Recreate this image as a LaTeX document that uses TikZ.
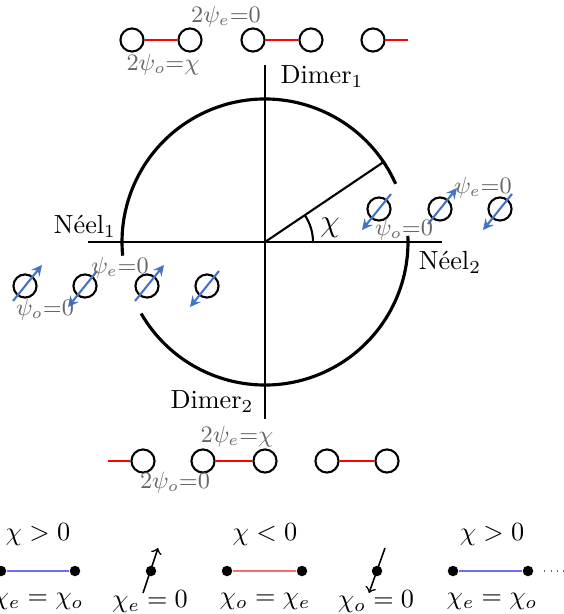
\documentclass[tikz,border=0pt]{standalone}
\usepackage{amsmath,amssymb}
\usepackage{tikz}
\usetikzlibrary{arrows, positioning, calc}

\definecolor{spinblue}{RGB}{68,114,196}
\definecolor{bondblue}{RGB}{110,110,245}
\definecolor{bondred}{RGB}{245,110,110}

\begin{document}
\begin{tikzpicture}[
    x=0.0134cm, y=0.0134cm,
    site/.style={circle, draw, thick, minimum size=8.8pt, inner sep=0pt},
    bond/.style={red, thick},
    spin/.style={-stealth, thick, spinblue},
    lab/.style={text=black!60, font=\small, inner sep=0pt},
    dot/.style={circle, fill, minimum size=4pt, inner sep=0pt},
    tilt/.style={->, semithick}
]
    \useasboundingbox (0,0) rectangle (564,-614);

    % phase circle
    \coordinate (O) at (265,-242);
    \draw[thick] (88,-242) -- (442,-242);
    \draw[thick] (265,-65) -- (265,-419);
    \draw[very thick] (O) ++(24:143) arc (24:185.5:143);
    \draw[very thick] (O) ++(210:143) arc (210:362.5:143);
    \coordinate (R) at ($(O)+(34:143)$);
    \draw[thick] (O) -- (R);
    \draw[thick] (O) ++(0:48) arc (0:34:48);
    \node[font=\large] (chi) at (330,-228) {$\chi$};

    \node (dimer1) at (322,-77) {Dimer$_1$};
    \node (dimer2) at (212,-402) {Dimer$_2$};
    \node (neel1) at (85,-226) {N\'eel$_1$};
    \node (neel2) at (450,-262) {N\'eel$_2$};

    % Dimer_1 chain
    \node[site] (t1) at (132,-40) {};
    \node[site] (t2) at (190,-40) {};
    \node[site] (t3) at (253,-40) {};
    \node[site] (t4) at (311,-40) {};
    \node[site] (t5) at (373,-40) {};
    \coordinate (tend) at (408,-40);
    \draw[bond] (t1) -- (t2);
    \draw[bond] (t3) -- (t4);
    \draw[bond] (t5) -- (tend);
    \node[lab] at (226,-17) {$2\psi_e{=}0$};
    \node[lab] at (163,-65) {$2\psi_o{=}\chi$};

    % Dimer_2 chain
    \coordinate (bstart) at (108,-461);
    \node[site] (b1) at (143,-461) {};
    \node[site] (b2) at (203,-461) {};
    \node[site] (b3) at (265,-461) {};
    \node[site] (b4) at (327,-461) {};
    \node[site] (b5) at (387,-461) {};
    \draw[bond] (bstart) -- (b1);
    \draw[bond] (b2) -- (b3);
    \draw[bond] (b4) -- (b5);
    \node[lab] at (237,-437) {$2\psi_e{=}\chi$};
    \node[lab] at (175,-483) {$2\psi_o{=}0$};

    % Neel_2 spins
    \node[site] (r1) at (379,-209) {};
    \node[site] (r2) at (440,-209) {};
    \node[site] (r3) at (500,-209) {};
    \draw[spin] ([shift={(12,15)}]r1.center) -- ([shift={(-17,-21)}]r1.center);
    \draw[spin] ([shift={(-12,-15)}]r2.center) -- ([shift={(17,21)}]r2.center);
    \draw[spin] ([shift={(12,15)}]r3.center) -- ([shift={(-17,-21)}]r3.center);
    \node[lab] at (483,-188) {$\psi_e{=}0$};
    \node[lab] at (404,-230) {$\psi_o{=}0$};

    % Neel_1 spins
    \node[site] (l1) at (25,-286) {};
    \node[site] (l2) at (85,-286) {};
    \node[site] (l3) at (147,-286) {};
    \node[site] (l4) at (207,-286) {};
    \draw[spin] ([shift={(-12,-15)}]l1.center) -- ([shift={(17,21)}]l1.center);
    \draw[spin] ([shift={(12,15)}]l2.center) -- ([shift={(-17,-21)}]l2.center);
    \draw[spin] ([shift={(-12,-15)}]l3.center) -- ([shift={(17,21)}]l3.center);
    \draw[spin] ([shift={(12,15)}]l4.center) -- ([shift={(-17,-21)}]l4.center);
    \node[lab] at (120,-268) {$\psi_e{=}0$};
    \node[lab] at (45,-310) {$\psi_o{=}0$};

    % chi_e / chi_o strip
    \node[dot] (a1) at (1,-571) {};
    \node[dot] (a2) at (75,-571) {};
    \draw[bondblue, thick] (a1) -- (a2);
    \node at (38,-535) {$\chi > 0$};
    \node at (38,-601) {$\chi_e = \chi_o$};

    \node[dot] (m1) at (151,-571) {};
    \draw[tilt] ([shift={(-8,-22)}]m1.center) -- ([shift={(7,23)}]m1.center);
    \node at (150,-602) {$\chi_e = 0$};

    \node[dot] (c1) at (227,-571) {};
    \node[dot] (c2) at (302,-571) {};
    \draw[bondred, thick] (c1) -- (c2);
    \node at (265,-535) {$\chi < 0$};
    \node at (265,-601) {$\chi_o = \chi_e$};

    \node[dot] (m2) at (377,-571) {};
    \draw[tilt] ([shift={(8,23)}]m2.center) -- ([shift={(-8,-22)}]m2.center);
    \node at (376,-602) {$\chi_o = 0$};

    \node[dot] (d1) at (453,-571) {};
    \node[dot] (d2) at (528,-571) {};
    \draw[bondblue, thick] (d1) -- (d2);
    \node at (492,-535) {$\chi > 0$};
    \node at (492,-601) {$\chi_e = \chi_o$};
    \coordinate (dend) at (566,-571);
    \draw[black!60, dotted] ([xshift=4pt]d2.east) -- (dend);
\end{tikzpicture}
\end{document}
